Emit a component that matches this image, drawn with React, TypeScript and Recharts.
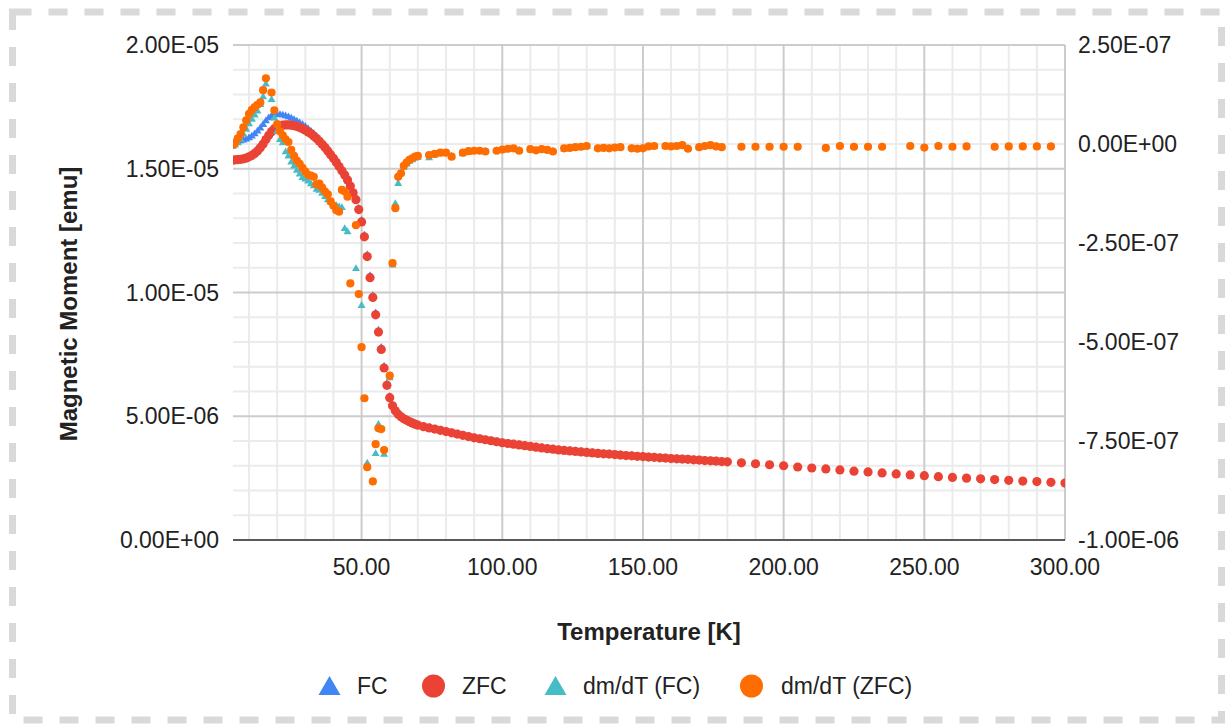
import { CartesianGrid, Scatter, ScatterChart, XAxis, YAxis } from 'recharts';

// temperature [K]
const TEMPS = [
  4.3, 5, 6, 7, 8, 9, 10, 11, 12, 13, 14, 15, 16, 17, 18, 19, 20, 21, 22, 23, 24, 25, 26, 27, 28, 29,
  30, 31, 32, 33, 34, 35, 36, 37, 38, 39, 40, 41, 42, 43, 44, 45, 46, 47, 48, 49, 50, 51, 52, 53, 54,
  55, 56, 57, 58, 59, 60, 61, 62, 63, 64, 65, 66, 67, 68, 69, 70,
  72, 74, 76, 78, 80, 82, 84, 86, 88, 90, 92, 94, 96, 98, 100, 102, 104, 106, 108, 110, 112, 114, 116,
  118, 120, 122, 124, 126, 128, 130, 132, 134, 136, 138, 140, 142, 144, 146, 148, 150, 152, 154, 156,
  158, 160, 162, 164, 166, 168, 170, 172, 174, 176, 178, 180,
  185, 190, 195, 200, 205, 210, 215, 220, 225, 230, 235, 240, 245, 250, 255, 260, 265, 270, 275, 280,
  285, 290, 295, 300,
];

// magnetic moment, in 1E-06 emu (left axis)
const FC = [
  16.08, 16.1, 16.12, 16.14, 16.17, 16.21, 16.26, 16.33, 16.42, 16.53, 16.66, 16.8, 16.95, 17.07, 17.15,
  17.19, 17.2, 17.2, 17.18, 17.15, 17.11, 17.06, 17.0, 16.94, 16.87, 16.8, 16.72, 16.63, 16.53, 16.43,
  16.32, 16.2, 16.07, 15.93, 15.78, 15.62, 15.46, 15.29, 15.11, 14.94, 14.78, 14.6, 14.36, 14.09, 13.81,
  13.42, 12.93, 12.33, 11.54, 10.69, 9.89, 9.19, 8.49, 7.79, 7.04, 6.33, 5.82, 5.48, 5.27, 5.12, 5.02,
  4.94, 4.87, 4.81, 4.76, 4.71, 4.67,
  4.61, 4.56, 4.51, 4.46, 4.41, 4.36, 4.31, 4.26, 4.21, 4.16, 4.12, 4.08, 4.04, 4.0, 3.96, 3.93, 3.9,
  3.87, 3.84, 3.81, 3.78, 3.75, 3.72, 3.7, 3.67, 3.65, 3.63, 3.61, 3.59, 3.57, 3.55, 3.53, 3.51, 3.5,
  3.48, 3.46, 3.44, 3.43, 3.41, 3.4, 3.38, 3.37, 3.35, 3.34, 3.32, 3.31, 3.3, 3.29, 3.27, 3.26, 3.24,
  3.23, 3.22, 3.2, 3.19,
];

const ZFC = [
  15.35, 15.36, 15.37, 15.38, 15.4, 15.43, 15.48, 15.54, 15.62, 15.72, 15.85, 16.0, 16.18, 16.35, 16.5,
  16.62, 16.7, 16.74, 16.76, 16.77, 16.77, 16.76, 16.74, 16.71, 16.67, 16.62, 16.56, 16.49, 16.41,
  16.32, 16.22, 16.11, 15.99, 15.86, 15.72, 15.57, 15.42, 15.26, 15.09, 14.92, 14.75, 14.55, 14.3,
  14.03, 13.75, 13.35, 12.85, 12.25, 11.45, 10.6, 9.8, 9.1, 8.4, 7.7, 6.95, 6.25, 5.75, 5.42, 5.22,
  5.08, 4.98, 4.9, 4.84, 4.78, 4.73, 4.68, 4.64,
  4.58, 4.53, 4.48, 4.43, 4.38, 4.33, 4.28, 4.23, 4.18, 4.13, 4.09, 4.05, 4.01, 3.97, 3.93, 3.9, 3.87,
  3.84, 3.81, 3.78, 3.75, 3.72, 3.69, 3.67, 3.64, 3.62, 3.6, 3.58, 3.56, 3.54, 3.52, 3.5, 3.48, 3.47,
  3.45, 3.43, 3.41, 3.4, 3.38, 3.37, 3.35, 3.34, 3.32, 3.31, 3.29, 3.28, 3.27, 3.26, 3.24, 3.23, 3.21,
  3.2, 3.19, 3.17, 3.16,
  3.12, 3.08, 3.04, 3.0, 2.95, 2.91, 2.87, 2.83, 2.78, 2.75, 2.71, 2.67, 2.63, 2.6, 2.56, 2.53, 2.5,
  2.47, 2.44, 2.41, 2.38, 2.36, 2.33, 2.3,
];

// dm/dT, in 1E-07 emu/K (right axis); null = no point
const DMDT_FC = [
  -0.05, -0.02, 0.04, 0.12, 0.25, 0.38, 0.52, 0.63, 0.74, 0.84, 1.0, 1.2, 1.52, null, 1.13, 0.66, 0.33,
  0.12, 0.04, -0.19, -0.3, -0.45, -0.55, -0.66, -0.75, -0.84, -0.88, -0.93, -1.0, -1.05, -1.14, -1.16,
  -1.24, -1.32, -1.4, -1.46, -1.52, -1.55, -1.58, -1.6, -2.13, -2.21, null, null, -3.14, null, -4.07,
  null, -8.05, null, null, -7.81, -7.07, null, -7.83, null, -5.9, -3.05, -1.5, -0.99, -0.72, -0.58,
  -0.5, -0.43, -0.39, -0.35, -0.33,
  null, -0.34, -0.27, -0.24, -0.23, -0.3, null, -0.24, -0.2, -0.18, -0.18, -0.18, null, -0.16, -0.15,
  -0.13, -0.12, -0.15, null, -0.14, -0.15, -0.13, -0.14, -0.17, null, -0.12, -0.1, -0.09, -0.08, -0.06,
  null, -0.1, -0.1, -0.1, -0.09, -0.08, null, -0.1, -0.11, -0.1, -0.07, -0.06, null, -0.06, -0.06,
  -0.05, -0.04, -0.1, null, -0.08, -0.06, -0.04, -0.06, -0.07, null,
];

const DMDT_ZFC = [
  -0.02, 0.02, 0.14, 0.25, 0.42, 0.6, 0.76, 0.86, 0.93, 0.99, 1.05, 1.36, 1.66, null, 1.3, 0.85, 0.5,
  0.32, 0.22, 0.12, 0.05, -0.15, -0.3, -0.42, -0.5, -0.6, -0.7, -0.78, -0.8, -0.83, -1.02, -1.0, -1.1,
  -1.2, -1.27, -1.45, -1.56, -1.67, -1.71, -1.16, -1.2, -1.33, -3.52, null, -2.05, -3.79, -5.13, -6.42,
  -8.16, null, -8.52, -7.58, -7.18, -7.2, -7.73, null, -5.85, -3.01, -1.62, -0.83, -0.74, -0.55, -0.47,
  -0.4, -0.36, -0.32, -0.3,
  null, -0.28, -0.25, -0.22, -0.22, -0.32, null, -0.22, -0.18, -0.17, -0.17, -0.19, null, -0.17, -0.14,
  -0.12, -0.11, -0.17, null, -0.13, -0.16, -0.13, -0.15, -0.19, null, -0.11, -0.1, -0.08, -0.07, -0.05,
  null, -0.11, -0.1, -0.11, -0.09, -0.08, null, -0.11, -0.12, -0.11, -0.06, -0.05, null, -0.05, -0.06,
  -0.05, -0.03, -0.12, null, -0.08, -0.05, -0.03, -0.06, -0.08, null,
  -0.07, -0.07, -0.07, -0.07, -0.07, null, -0.1, -0.05, -0.07, -0.07, -0.07, null, -0.05, -0.09, -0.05,
  -0.07, -0.06, null, -0.07, -0.06, -0.06, -0.06, -0.06, null,
];

const X_TICKS = [50, 100, 150, 200, 250, 300];
const X_MINOR = [10, 20, 30, 40, 60, 70, 80, 90, 110, 120, 130, 140, 160, 170, 180, 190, 210, 220, 230, 240, 260, 270, 280, 290];
const LEFT_TICKS = [0, 5, 10, 15, 20];
const LEFT_MINOR = [1, 2, 3, 4, 6, 7, 8, 9, 11, 12, 13, 14, 16, 17, 18, 19];
const RIGHT_TICKS = [-10, -7.5, -5, -2.5, 0, 2.5];

const COLORS = { fc: '#4285f4', zfc: '#ea4335', dfc: '#46bdc6', dzfc: '#ff6d01' };
const FONT = "'Liberation Sans', Arial, sans-serif";

const pts = (vals) =>
  TEMPS.map((t, i) => ({ t, v: vals[i] })).filter((p) => p.v !== null && p.v !== undefined);

// Sheets style scientific labels, e.g. 2.00E-05
const fmtE = (v) => {
  if (Math.abs(v) < 1e-20) return '0.00E+00';
  let e = Math.floor(Math.log10(Math.abs(v)));
  let m = v / Math.pow(10, e);
  if (Math.abs(Math.round(m * 100) / 100) >= 10) {
    e += 1;
    m = v / Math.pow(10, e);
  }
  return `${m.toFixed(2)}E${e < 0 ? '-' : '+'}${String(Math.abs(e)).padStart(2, '0')}`;
};

const dot = (color, r) => (props) => <circle cx={props.cx} cy={props.cy} r={r} fill={color} />;

const tri = (color, w) => (props) => {
  const { cx, cy } = props;
  const h = w * 0.85;
  return (
    <polygon
      points={`${cx},${cy - h * 0.6} ${cx - w / 2},${cy + h * 0.4} ${cx + w / 2},${cy + h * 0.4}`}
      fill={color}
    />
  );
};

const tickStyle = { fill: '#222', fontSize: 23 };

const LEGEND = [
  { name: 'FC', color: COLORS.fc, kind: 'tri', x: 329.5, tx: 357 },
  { name: 'ZFC', color: COLORS.zfc, kind: 'dot', x: 433.5, tx: 462 },
  { name: 'dm/dT (FC)', color: COLORS.dfc, kind: 'tri', x: 555.5, tx: 583 },
  { name: 'dm/dT (ZFC)', color: COLORS.dzfc, kind: 'dot', x: 751.5, tx: 781 },
];

const App = () => {
  return (
    <div
      style={{
        position: 'absolute',
        left: 0,
        top: 0,
        width: 1225,
        height: 724,
        background: '#fff',
        fontFamily: FONT,
      }}
    >
      <ScatterChart width={1225} height={724} margin={{ top: 45, right: 20, bottom: 144, left: 113 }}>
        <CartesianGrid
          yAxisId='left'
          verticalValues={X_MINOR}
          horizontalValues={LEFT_MINOR}
          stroke='#ebebeb'
          strokeWidth={2}
        />
        <CartesianGrid
          yAxisId='left'
          verticalValues={X_TICKS}
          horizontalValues={LEFT_TICKS}
          stroke='#cccccc'
          strokeWidth={2}
        />
        <XAxis
          type='number'
          dataKey='t'
          domain={[4.3, 300]}
          allowDataOverflow
          ticks={X_TICKS}
          interval={0}
          tickFormatter={(v) => v.toFixed(2)}
          height={40}
          tick={tickStyle}
          tickLine={false}
          tickSize={6}
          tickMargin={13}
          axisLine={{ stroke: '#333', strokeWidth: 1.5 }}
        />
        <YAxis
          yAxisId='left'
          type='number'
          domain={[0, 20]}
          ticks={LEFT_TICKS}
          interval={0}
          tickFormatter={(v) => fmtE(v * 1e-6)}
          width={120}
          tick={tickStyle}
          tickLine={false}
          axisLine={false}
          tickSize={6}
          tickMargin={8}
        />
        <YAxis
          yAxisId='right'
          orientation='right'
          type='number'
          domain={[-10, 2.5]}
          ticks={RIGHT_TICKS}
          interval={0}
          tickFormatter={(v) => fmtE(v * 1e-7)}
          width={140}
          tick={{ ...tickStyle, textAnchor: 'start' }}
          tickLine={false}
          axisLine={false}
          tickSize={6}
          tickMargin={7}
        />
        <Scatter name='FC' data={pts(FC)} dataKey='v' yAxisId='left' fill={COLORS.fc} shape={tri(COLORS.fc, 8)} isAnimationActive={false} />
        <Scatter name='ZFC' data={pts(ZFC)} dataKey='v' yAxisId='left' fill={COLORS.zfc} shape={dot(COLORS.zfc, 4.6)} isAnimationActive={false} />
        <Scatter name='dm/dT (FC)' data={pts(DMDT_FC)} dataKey='v' yAxisId='right' fill={COLORS.dfc} shape={tri(COLORS.dfc, 8)} isAnimationActive={false} />
        <Scatter name='dm/dT (ZFC)' data={pts(DMDT_ZFC)} dataKey='v' yAxisId='right' fill={COLORS.dzfc} shape={dot(COLORS.dzfc, 4.1)} isAnimationActive={false} />
      </ScatterChart>
      <svg
        width={1225}
        height={724}
        style={{ position: 'absolute', left: 0, top: 0, pointerEvents: 'none', fontFamily: FONT }}
      >
        <rect x={12.5} y={12} width={1209} height={708} fill='none' stroke='#d9d9d9' strokeWidth={7} strokeDasharray='19 17' />
        <text x={649} y={640} textAnchor='middle' fontSize={24} fontWeight='bold' fill='#222'>
          Temperature [K]
        </text>
        <text
          x={77}
          y={304}
          textAnchor='middle'
          fontSize={24}
          fontWeight='bold'
          fill='#222'
          transform='rotate(-90 77 304)'
        >
          Magnetic Moment [emu]
        </text>
        {LEGEND.map((item) => (
          <g key={item.name}>
            {item.kind === 'dot' ? (
              <circle cx={item.x} cy={686} r={11.5} fill={item.color} />
            ) : (
              <polygon points={`${item.x},676 ${item.x - 11},695 ${item.x + 11},695`} fill={item.color} />
            )}
            <text x={item.tx} y={694} fontSize={23} fill='#222'>
              {item.name}
            </text>
          </g>
        ))}
      </svg>
    </div>
  );
};

export default App;
